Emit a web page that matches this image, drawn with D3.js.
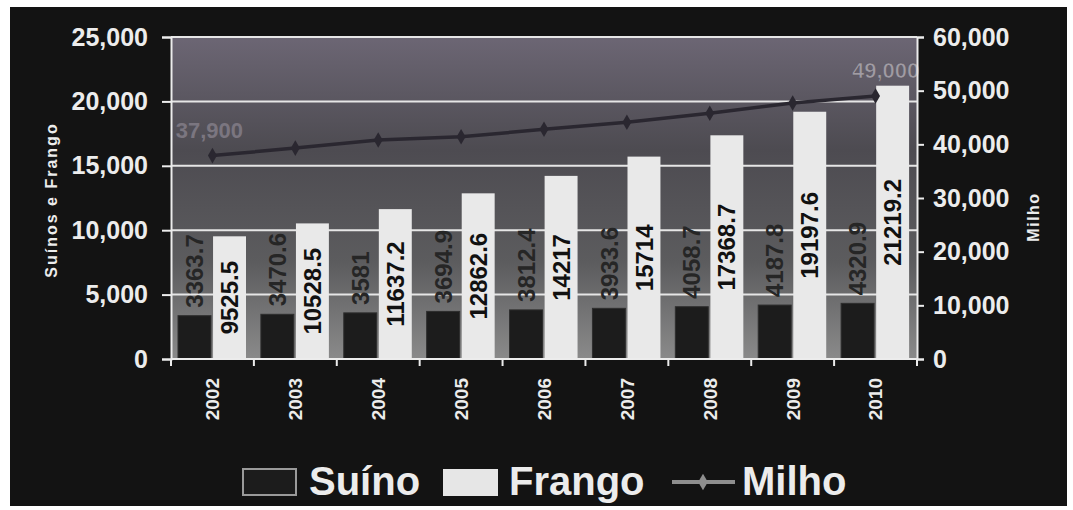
<!DOCTYPE html>
<html>
<head>
<meta charset="utf-8">
<script src="https://cdn.jsdelivr.net/npm/d3@7"></script>
<style>
  html, body { margin: 0; padding: 0; background: #ffffff; }
  svg { display: block; }
  text { font-family: "Liberation Sans", Arial, sans-serif; }
</style>
</head>
<body>
<svg id="chart" width="1073" height="510"></svg>
<script>
// ---- data ----
const years = ["2002", "2003", "2004", "2005", "2006", "2007", "2008", "2009", "2010"];
const suino = [3363.7, 3470.6, 3581, 3694.9, 3812.4, 3933.6, 4058.7, 4187.8, 4320.9];
const frango = [9525.5, 10528.5, 11637.2, 12862.6, 14217, 15714, 17368.7, 19197.6, 21219.2];
const milho = [37900, 39300, 40800, 41400, 42800, 44100, 45800, 47700, 49000];
const leftTicks = [0, 5000, 10000, 15000, 20000, 25000];
const rightTicks = [0, 10000, 20000, 30000, 40000, 50000, 60000];
const seriesNames = ["Suíno", "Frango", "Milho"];
const leftTitle = "Suínos e Frango";
const rightTitle = "Milho";

const svg = d3.select("#chart");
const W = 1073, H = 510;

// outer dark panel
svg.append("rect").attr("x", 10).attr("y", 7).attr("width", 1057).attr("height", 499).attr("fill", "#131313");

const plot = { left: 171, right: 917, top: 37, bottom: 359 };

const x = d3.scaleBand().domain(years).range([plot.left, plot.right]).paddingInner(0).paddingOuter(0);
const xs = d3.scaleBand().domain(["s", "f"]).range([7, 75]).paddingInner(0.06).paddingOuter(0);
const yL = d3.scaleLinear().domain([0, 25000]).range([plot.bottom, plot.top]);
const yR = d3.scaleLinear().domain([0, 60000]).range([plot.bottom, plot.top]);

// plot background gradient
const defs = svg.append("defs");
const grad = defs.append("linearGradient").attr("id", "bg").attr("x1", 0).attr("y1", 0).attr("x2", 0).attr("y2", 1);
grad.append("stop").attr("offset", "0%").attr("stop-color", "#6c6674");
grad.append("stop").attr("offset", "35%").attr("stop-color", "#4d4b51");
grad.append("stop").attr("offset", "70%").attr("stop-color", "#5c5c5e");
grad.append("stop").attr("offset", "100%").attr("stop-color", "#8a8a8a");
svg.append("rect").attr("x", plot.left).attr("y", plot.top)
  .attr("width", plot.right - plot.left).attr("height", plot.bottom - plot.top)
  .attr("fill", "url(#bg)");

// gridlines
svg.append("g").selectAll("line").data(leftTicks.filter(d => d > 0)).join("line")
  .attr("x1", plot.left).attr("x2", plot.right)
  .attr("y1", d => yL(d)).attr("y2", d => yL(d))
  .attr("stroke", "#e6e6e6").attr("stroke-width", 2);

// bars
const gBars = svg.append("g");
years.forEach((yr, i) => {
  const x0 = x(yr);
  gBars.append("rect")
    .attr("x", x0 + xs("s")).attr("width", xs.bandwidth())
    .attr("y", yL(suino[i])).attr("height", yL(0) - yL(suino[i]))
    .attr("fill", "#1c1c1c").attr("stroke", "#2e2e2e").attr("stroke-width", 1);
  gBars.append("rect")
    .attr("x", x0 + xs("f")).attr("width", xs.bandwidth())
    .attr("y", yL(frango[i])).attr("height", yL(0) - yL(frango[i]))
    .attr("fill", "#e9e9e9");
});

// bar labels
years.forEach((yr, i) => {
  const cxS = x(yr) + xs("s") + xs.bandwidth() / 2;
  const yS = yL(suino[i]) - 8;
  svg.append("text")
    .attr("transform", `translate(${cxS},${yS}) rotate(-90)`)
    .attr("text-anchor", "start").attr("dy", "0.36em")
    .attr("font-size", 24).attr("font-weight", "bold").attr("fill", "#262626")
    .text(String(suino[i]));
  const cxF = x(yr) + xs("f") + xs.bandwidth() / 2;
  const yF = (yL(frango[i]) + yL(0)) / 2;
  svg.append("text")
    .attr("transform", `translate(${cxF},${yF}) rotate(-90)`)
    .attr("text-anchor", "middle").attr("dy", "0.36em")
    .attr("font-size", 24).attr("font-weight", "bold").attr("fill", "#111")
    .text(String(frango[i]));
});

// Milho line
const line = d3.line()
  .x((d, i) => x(years[i]) + x.bandwidth() / 2)
  .y(d => yR(d));
svg.append("path").datum(milho).attr("d", line)
  .attr("fill", "none").attr("stroke", "#2a2730").attr("stroke-width", 3.5);
svg.append("g").selectAll("path").data(milho).join("path")
  .attr("d", d3.symbol(d3.symbolDiamond, 70))
  .attr("transform", (d, i) => `translate(${x(years[i]) + x.bandwidth() / 2},${yR(d)})`)
  .attr("fill", "#2a2730");

// Milho labels (first & last)
const fmt = d3.format(",");
[0, milho.length - 1].forEach((i, k) => {
  svg.append("text")
    .attr("x", x(years[i]) + x.bandwidth() / 2 + (k === 0 ? -3 : 10))
    .attr("y", yR(milho[i]) - 18)
    .attr("text-anchor", "middle")
    .attr("font-size", 22).attr("font-weight", "bold")
    .attr("fill", k === 0 ? "#7b7680" : "#a09ca4")
    .attr("stroke", k === 0 ? "none" : "#5a5560").attr("stroke-width", 0.6)
    .text(fmt(milho[i]));
});

// axes
const white = "#ececec";
// left axis
const axL = svg.append("g").attr("transform", `translate(${plot.left},0)`)
  .call(d3.axisLeft(yL).tickValues(leftTicks).tickFormat(d3.format(",")).tickSize(9).tickPadding(14));
// right axis
const axR = svg.append("g").attr("transform", `translate(${plot.right},0)`)
  .call(d3.axisRight(yR).tickValues(rightTicks).tickFormat(d3.format(",")).tickSize(7).tickPadding(9));
// bottom axis (ticks at band boundaries)
const axB = svg.append("g").attr("transform", `translate(0,${plot.bottom})`);
axB.append("line").attr("x1", plot.left).attr("x2", plot.right).attr("y1", 0).attr("y2", 0)
  .attr("stroke", white).attr("stroke-width", 2);
const bounds = years.map(y => x(y)).concat([plot.right]);
axB.selectAll("line.t").data(bounds).join("line").attr("class", "t")
  .attr("x1", d => d).attr("x2", d => d).attr("y1", 0).attr("y2", 7)
  .attr("stroke", white).attr("stroke-width", 2);
axB.selectAll("text").data(years).join("text")
  .attr("transform", d => `translate(${x(d) + x.bandwidth() / 2},19) rotate(-90)`)
  .attr("text-anchor", "end").attr("dy", "0.36em")
  .attr("font-size", 19).attr("font-weight", "bold").attr("fill", white)
  .text(d => d);

[axL, axR].forEach(ax => {
  ax.select(".domain").attr("stroke", white).attr("stroke-width", 2);
  ax.selectAll(".tick line").attr("stroke", white).attr("stroke-width", 2);
  ax.selectAll(".tick text").attr("fill", white).attr("font-size", 25).attr("font-weight", "bold")
    .style("font-family", "'Liberation Sans', Arial, sans-serif");
});

// axis titles
svg.append("text")
  .attr("transform", `translate(51,200) rotate(-90)`)
  .attr("text-anchor", "middle").attr("dy", "0.36em")
  .attr("font-size", 16).attr("font-weight", "bold").attr("fill", white)
  .attr("letter-spacing", 2)
  .text(leftTitle);
svg.append("text")
  .attr("transform", `translate(1033,217) rotate(-90)`)
  .attr("text-anchor", "middle").attr("dy", "0.36em")
  .attr("font-size", 16).attr("font-weight", "bold").attr("fill", white)
  .attr("letter-spacing", 1.5)
  .text(rightTitle);

// legend
const lg = svg.append("g");
lg.append("rect").attr("x", 243).attr("y", 469).attr("width", 53).attr("height", 26)
  .attr("fill", "#1c1c1c").attr("stroke", "#9a9a9a").attr("stroke-width", 2);
lg.append("text").attr("x", 309).attr("y", 495).attr("font-size", 40).attr("font-weight", "bold")
  .attr("fill", white).text(seriesNames[0]);
lg.append("rect").attr("x", 443).attr("y", 469).attr("width", 55).attr("height", 27)
  .attr("fill", "#e6e6e6");
lg.append("text").attr("x", 509).attr("y", 495).attr("font-size", 40).attr("font-weight", "bold")
  .attr("fill", white).text(seriesNames[1]);
lg.append("line").attr("x1", 672).attr("x2", 735).attr("y1", 482).attr("y2", 482)
  .attr("stroke", "#8e8e8e").attr("stroke-width", 4);
lg.append("path").attr("d", d3.symbol(d3.symbolDiamond, 80))
  .attr("transform", "translate(703,482)").attr("fill", "#8e8e8e");
lg.append("text").attr("x", 742).attr("y", 495).attr("font-size", 40).attr("font-weight", "bold")
  .attr("fill", white).text(seriesNames[2]);
</script>
</body>
</html>
